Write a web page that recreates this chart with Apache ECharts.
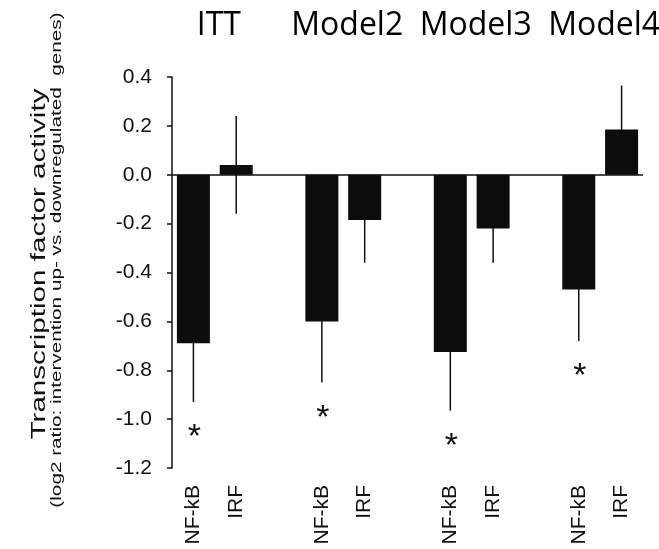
<!DOCTYPE html>
<html>
<head>
<meta charset="utf-8">
<script src="https://cdn.jsdelivr.net/npm/echarts@6/dist/echarts.min.js"></script>
<style>
html,body{margin:0;padding:0;background:#fff;}
#chart{width:659px;height:549px;}
</style>
</head>
<body>
<div id="chart"></div>
<script>
// ---- data ----
const groups = ['ITT', 'Model2', 'Model3', 'Model4'];
const factors = ['NF-kB', 'IRF'];
const nfkbValues = [-0.69, -0.60, -0.725, -0.47];
const nfkbErrors = [0.24, 0.25, 0.24, 0.21];
const irfValues = [0.04, -0.185, -0.22, 0.185];
const irfErrors = [0.20, 0.175, 0.14, 0.18];
const nfkbSignificant = [true, true, true, true];
const irfSignificant = [false, false, false, false];
const yMin = -1.2, yMax = 0.4, yStep = 0.2;
const yTitle = 'Transcription factor activity';
const ySubtitle = '(log2 ratio: intervention up- vs. downregulated  genes)';

// ---- build category axis (blank slot between groups) ----
const categories = [];
const barData = [];
const errData = [];
const groupPairs = [];
groups.forEach((g, i) => {
  const iN = categories.length;
  categories.push(factors[0]);
  barData.push(nfkbValues[i]);
  errData.push([iN, nfkbValues[i], nfkbErrors[i], nfkbSignificant[i] ? 1 : 0]);
  const iI = categories.length;
  categories.push(factors[1]);
  barData.push(irfValues[i]);
  errData.push([iI, irfValues[i], irfErrors[i], irfSignificant[i] ? 1 : 0]);
  groupPairs.push([iN, iI, i]);
  if (i < groups.length - 1) { categories.push(''); barData.push('-'); }
});

const chart = echarts.init(document.getElementById('chart'), null, {renderer: 'canvas'});
const AX = '"Liberation Sans", Arial, sans-serif';

chart.setOption({
  animation: false,
  backgroundColor: '#fff',
  grid: {left: 172, right: 16, top: 77, bottom: 81, containLabel: false},
  xAxis: {
    type: 'category',
    data: categories,
    axisLine: {show: false},
    axisTick: {show: false},
    axisLabel: {
      rotate: 90, margin: 17, interval: 0,
      fontFamily: AX, fontSize: 21, color: '#111'
    }
  },
  yAxis: {
    type: 'value',
    min: yMin, max: yMax, interval: yStep,
    splitLine: {show: false},
    axisLine: {show: true, lineStyle: {color: '#111', width: 1.5}},
    axisTick: {show: true, length: 5, lineStyle: {color: '#111', width: 1.5}},
    axisLabel: {
      margin: 20, fontFamily: AX, fontSize: 21, color: '#111',
      formatter: v => v.toFixed(1)
    }
  },
  graphic: [
    {type: 'text', x: 39, y: 264, rotation: Math.PI / 2, scaleX: 1.48,
     style: {text: yTitle, font: '20px ' + AX, fill: '#111', align: 'center', verticalAlign: 'middle'}},
    {type: 'text', x: 57, y: 260, rotation: Math.PI / 2, scaleX: 1.48,
     style: {text: ySubtitle, font: '14px ' + AX, fill: '#111', align: 'center', verticalAlign: 'middle'}}
  ],
  series: [
    {
      type: 'bar',
      data: barData,
      barWidth: 33,
      itemStyle: {color: '#0d0d0d'},
      markLine: {
        silent: true, symbol: 'none', label: {show: false},
        lineStyle: {color: '#111', width: 1.5, type: 'solid'},
        data: [{yAxis: 0}]
      },
      z: 3
    },
    {
      type: 'custom',
      data: errData,
      encode: {x: 0, y: 1},
      z: 2,
      renderItem: function (params, api) {
        const x = api.value(0), v = api.value(1), e = api.value(2), sig = api.value(3);
        const p1 = api.coord([x, v + e]);
        const p2 = api.coord([x, v - e]);
        const children = [{
          type: 'line',
          shape: {x1: p1[0], y1: p1[1], x2: p2[0], y2: p2[1]},
          style: {stroke: '#111', lineWidth: 1.5}
        }];
        if (sig) {
          children.push({
            type: 'text',
            x: p2[0] + 1, y: p2[1] + 36,
            style: {text: '*', font: '34px ' + AX, fill: '#111', align: 'center', verticalAlign: 'middle'}
          });
        }
        return {type: 'group', children: children};
      }
    },
    {
      type: 'custom',
      data: groupPairs,
      encode: {x: 0},
      renderItem: function (params, api) {
        const a = api.coord([api.value(0), 0]);
        const b = api.coord([api.value(1), 0]);
        return {
          type: 'text',
          x: (a[0] + b[0]) / 2 + 4, y: 26,
          style: {text: groups[api.value(2)], font: '32px "Open Sans", sans-serif', fill: '#000',
                  align: 'center', verticalAlign: 'middle'}
        };
      }
    }
  ]
});
</script>
</body>
</html>
